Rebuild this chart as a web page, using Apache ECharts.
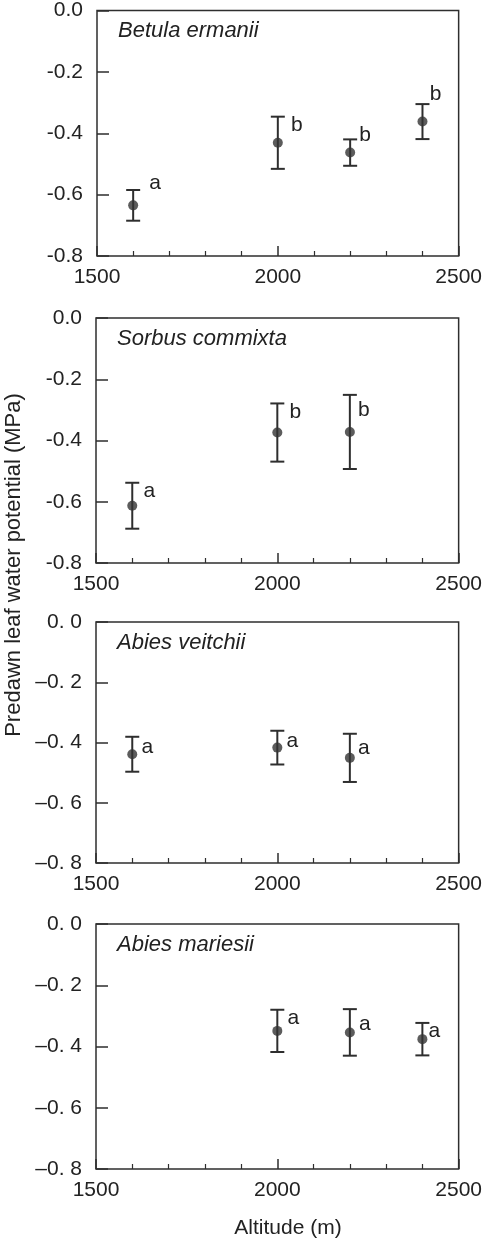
<!DOCTYPE html>
<html>
<head>
<meta charset="utf-8">
<script src="https://cdn.jsdelivr.net/npm/echarts@6/dist/echarts.min.js"></script>
<style>
html,body{margin:0;padding:0;background:#fff;}
#c{width:485px;height:1243px;}
</style>
</head>
<body>
<div id="c"></div>
<script>
// ---- data ----
const species = ['Betula ermanii', 'Sorbus commixta', 'Abies veitchii', 'Abies mariesii'];
const betulaAlt = [1600, 2000, 2200, 2400];
const betulaMean = [-0.635, -0.431, -0.463, -0.362];
const betulaErr = [0.050, 0.085, 0.043, 0.057];
const betulaLetters = ['a', 'b', 'b', 'b'];

const sorbusAlt = [1600, 2000, 2200];
const sorbusMean = [-0.613, -0.374, -0.372];
const sorbusErr = [0.075, 0.095, 0.121];
const sorbusLetters = ['a', 'b', 'b'];

const veitchiiAlt = [1600, 2000, 2200];
const veitchiiMean = [-0.439, -0.417, -0.451];
const veitchiiErr = [0.058, 0.056, 0.080];
const veitchiiLetters = ['a', 'a', 'a'];

const mariesiiAlt = [2000, 2200, 2400];
const mariesiiMean = [-0.349, -0.354, -0.376];
const mariesiiErr = [0.069, 0.076, 0.053];
const mariesiiLetters = ['a', 'a', 'a'];

const xTicks = [1500, 2000, 2500];
const yTicks = [0, -0.2, -0.4, -0.6, -0.8];

// ---- layout (pixels) ----
const grids = [
  {left: 97, top: 10, width: 365, height: 246},
  {left: 96, top: 318, width: 365, height: 245},
  {left: 96, top: 622, width: 365, height: 241},
  {left: 96, top: 924, width: 365, height: 245}
];
// letter offsets relative to [point x, top of error bar]
const letterOffsets = [
  [[22, -7], [19, 9], [15, -4], [13, -10]],
  [[17, 8], [18, 9], [14, 15]],
  [[15, 10], [15, 10], [14, 14]],
  [[16, 8], [15, 15], [12, 8]]
];

const panels = [
  {alt: betulaAlt, mean: betulaMean, err: betulaErr, letters: betulaLetters},
  {alt: sorbusAlt, mean: sorbusMean, err: sorbusErr, letters: sorbusLetters},
  {alt: veitchiiAlt, mean: veitchiiMean, err: veitchiiErr, letters: veitchiiLetters},
  {alt: mariesiiAlt, mean: mariesiiMean, err: mariesiiErr, letters: mariesiiLetters}
];

const FONT = '"Liberation Sans", Arial, sans-serif';
const INK = '#222';
const LINE = '#2e2e2e';

function yFmt(i) {
  return function (v) {
    const s = Math.abs(v).toFixed(1);
    if (i < 2) return (v < 0 ? '-' : '') + s;
    return (v < 0 ? '\u2013' : '') + s.replace('.', '. ');
  };
}

const option = {
  backgroundColor: '#fff',
  animation: false,
  grid: grids.map(g => Object.assign({show: true, borderColor: LINE, borderWidth: 1.5, backgroundColor: 'transparent'}, g)),
  xAxis: grids.map((g, i) => ({
    type: 'value', gridIndex: i, position: 'bottom',
    min: xTicks[0], max: xTicks[xTicks.length - 1], interval: 500,
    axisLine: {show: false, onZero: false},
    axisTick: {show: true, inside: true, length: 10, lineStyle: {color: LINE, width: 1.5}},
    minorTick: {show: true, splitNumber: 5, length: 5, lineStyle: {color: LINE, width: 1.2}},
    splitLine: {show: false},
    axisLabel: {fontFamily: FONT, fontSize: 21, color: INK, margin: 11, formatter: v => String(v)}
  })),
  yAxis: grids.map((g, i) => ({
    type: 'value', gridIndex: i, position: 'left',
    min: yTicks[yTicks.length - 1], max: yTicks[0], interval: 0.2,
    axisLine: {show: false, onZero: false},
    axisTick: {show: true, inside: true, length: 12, lineStyle: {color: LINE, width: 1.5}},
    splitLine: {show: false},
    axisLabel: {fontFamily: FONT, fontSize: 21, color: INK, margin: 14, formatter: yFmt(i)}
  })),
  series: [],
  graphic: []
};

panels.forEach((p, i) => {
  const data = p.alt.map((a, k) => [a, p.mean[k], p.err[k]]);
  option.series.push({
    type: 'custom', xAxisIndex: i, yAxisIndex: i,
    data: data,
    encode: {x: 0, y: 1},
    renderItem: function (params, api) {
      const x = api.value(0), m = api.value(1), e = api.value(2);
      const t = api.coord([x, m + e]);
      const b = api.coord([x, m - e]);
      const cw = 7;
      const st = {stroke: LINE, lineWidth: 2};
      const off = letterOffsets[i][params.dataIndex];
      return {
        type: 'group',
        children: [
          {type: 'line', shape: {x1: t[0], y1: t[1], x2: b[0], y2: b[1]}, style: st},
          {type: 'line', shape: {x1: t[0] - cw, y1: t[1], x2: t[0] + cw, y2: t[1]}, style: st},
          {type: 'line', shape: {x1: b[0] - cw, y1: b[1], x2: b[0] + cw, y2: b[1]}, style: st},
          {type: 'text', x: t[0] + off[0], y: t[1] + off[1],
           style: {text: p.letters[params.dataIndex], fill: INK, font: '21px ' + FONT, align: 'center', verticalAlign: 'middle'}}
        ]
      };
    },
    z: 2
  });
  option.series.push({
    type: 'scatter', xAxisIndex: i, yAxisIndex: i,
    data: p.alt.map((a, k) => [a, p.mean[k]]),
    symbol: 'circle', symbolSize: 10,
    itemStyle: {color: '#333'},
    z: 3
  });
  option.graphic.push({
    type: 'text', x: grids[i].left + 21, y: grids[i].top + 21,
    style: {text: species[i], fill: INK, font: 'italic 22px ' + FONT, align: 'left', verticalAlign: 'middle'}
  });
});

option.graphic.push({
  type: 'text', x: 14, y: 565, rotation: Math.PI / 2,
  style: {text: 'Predawn leaf water potential (MPa)', fill: INK, font: '22px ' + FONT, align: 'center', verticalAlign: 'middle'}
});
option.graphic.push({
  type: 'text', x: 288, y: 1228,
  style: {text: 'Altitude (m)', fill: INK, font: '21px ' + FONT, align: 'center', verticalAlign: 'middle'}
});

const chart = echarts.init(document.getElementById('c'), null, {renderer: 'canvas'});
chart.setOption(option);
</script>
</body>
</html>
